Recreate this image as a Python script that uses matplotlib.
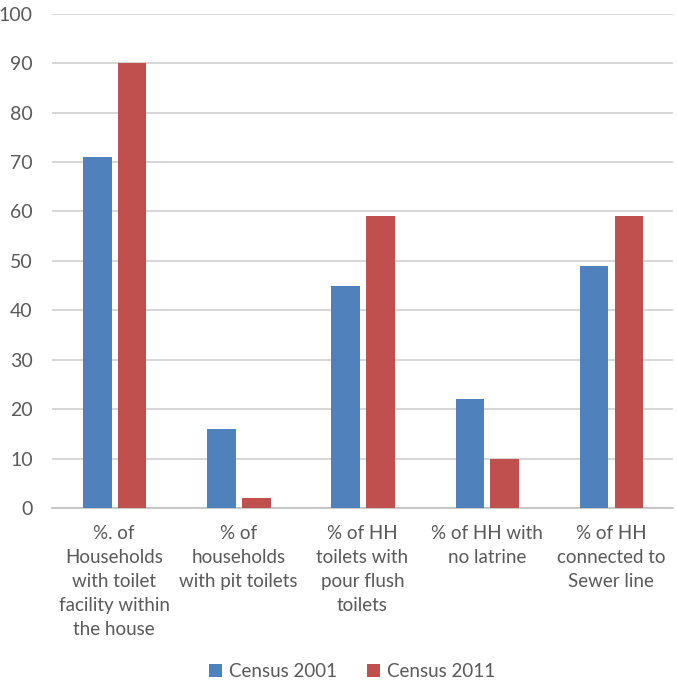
import numpy as np
import matplotlib.pyplot as plt

categories = [
    "%. of\nHouseholds\nwith toilet\nfacility within\nthe house",
    "% of\nhouseholds\nwith pit toilets",
    "% of HH\ntoilets with\npour flush\ntoilets",
    "% of HH with\nno latrine",
    "% of HH\nconnected to\nSewer line",
]
census_2001 = [71, 16, 45, 22, 49]
census_2011 = [90, 2, 59, 10, 59]
series_names = ["Census 2001", "Census 2011"]

plt.rcParams["font.family"] = ["Lato", "DejaVu Sans"]

fig = plt.figure(figsize=(6.77, 6.84), dpi=100)
ax = fig.add_axes([0.077, 0.257, 0.917, 0.723])

x = np.arange(len(categories))
w = 0.23
ax.bar(x - 0.135, census_2001, width=w, color="#4F81BD", label=series_names[0], zorder=3)
ax.bar(x + 0.145, census_2011, width=w, color="#C0504D", label=series_names[1], zorder=3)

ax.set_xlim(-0.5, len(categories) - 0.5)
ax.set_ylim(0, 100)
ax.set_yticks(range(0, 101, 10))
ax.yaxis.grid(True, color="#D0D0D0", linewidth=1.2, zorder=0)
ax.set_axisbelow(True)
for s in ["top", "right", "left"]:
    ax.spines[s].set_visible(False)
ax.spines["bottom"].set_color("#BFBFBF")
ax.spines["bottom"].set_linewidth(1.2)

ax.set_xticks(x)
ax.set_xticklabels(categories, fontsize=13.5, color="#595959", linespacing=1.5, va="top")
ax.tick_params(axis="x", length=0, pad=12)
ax.tick_params(axis="y", length=0, pad=14, labelsize=14, labelcolor="#595959")

ax.legend(loc="center", bbox_to_anchor=(0.483, -0.33), ncol=2, frameon=False,
          fontsize=13.5, labelcolor="#595959", handlelength=0.7, handleheight=0.7,
          handletextpad=0.35, columnspacing=1.6)

fig.savefig("out.png", dpi=100)
